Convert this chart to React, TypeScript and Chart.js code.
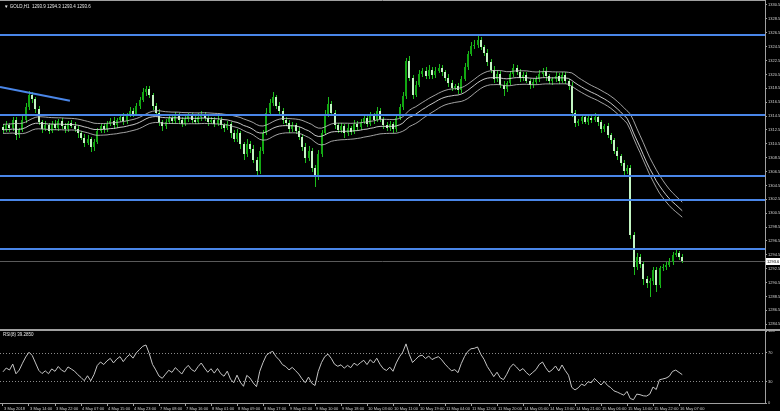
import React, { useEffect, useRef } from "react";
import { Chart, registerables } from "chart.js";

Chart.register(...registerables);

const FONT = "'Liberation Sans', Arial, sans-serif";

const headerText = "\u25BC GOLD,H1  1293.9 1294.3 1293.4 1293.6";
const rsiTitle = "RSI(8) 39.2850";

const firstOpen = 1312.9;
const closes = [
  1312.5, 1313.2, 1312.8, 1313.9, 1311.8, 1312.5, 1314.0, 1315.8, 1317.6, 1317.0,
  1315.5, 1313.6, 1312.6, 1313.2, 1312.4, 1313.4, 1312.8, 1313.8, 1313.0, 1312.6,
  1313.5, 1313.1, 1312.7, 1312.0, 1311.4, 1310.6, 1311.2, 1310.0, 1310.8, 1312.3,
  1313.0, 1312.6, 1313.3, 1313.8, 1313.2, 1313.9, 1314.4, 1313.8, 1314.6, 1315.2,
  1314.8, 1315.9, 1316.8, 1317.9, 1318.4, 1317.5, 1316.0, 1315.0, 1313.6, 1313.0,
  1313.6, 1314.2, 1313.8, 1314.5, 1314.0, 1313.4, 1314.1, 1314.6, 1314.0, 1313.7,
  1314.3, 1314.8, 1314.2, 1313.6, 1314.0, 1313.4, 1313.9, 1313.2, 1312.8, 1313.3,
  1312.0, 1311.2, 1312.0, 1310.4, 1309.0, 1310.5, 1309.8, 1308.2, 1306.6, 1309.5,
  1312.0, 1315.0, 1316.4, 1317.2, 1316.0, 1315.2, 1314.0, 1313.5, 1312.6, 1313.2,
  1312.4, 1311.5, 1310.0, 1308.5, 1309.5, 1307.0, 1305.8, 1309.0, 1312.0, 1314.8,
  1316.2, 1315.0, 1313.2, 1312.5, 1313.0, 1312.0, 1312.8, 1312.2, 1313.4, 1312.9,
  1313.6, 1314.2, 1313.4, 1314.6, 1314.0, 1315.2, 1314.1, 1313.2, 1312.8, 1313.4,
  1312.6, 1314.2, 1315.8, 1317.4, 1322.4, 1320.0, 1317.6, 1319.0, 1320.6, 1321.0,
  1320.2, 1321.2, 1320.4, 1321.0, 1321.4, 1320.8, 1320.0, 1319.3, 1318.6, 1318.8,
  1318.2, 1319.8, 1321.6, 1323.4, 1324.6, 1324.8, 1325.4, 1324.4, 1323.6, 1322.3,
  1321.2, 1319.8, 1320.6, 1319.0, 1318.4, 1319.3, 1320.6, 1321.4, 1320.8, 1320.0,
  1320.4, 1319.6, 1319.0, 1319.4, 1319.8, 1320.6, 1321.0, 1320.2, 1319.5, 1319.8,
  1320.3, 1319.6, 1320.4, 1319.6, 1318.8, 1315.0, 1313.5, 1313.8, 1314.3, 1313.7,
  1314.2, 1313.9, 1314.4, 1313.6, 1312.6, 1313.0, 1311.8, 1311.0, 1309.5, 1308.8,
  1307.8, 1306.6, 1307.0, 1297.4, 1292.8, 1294.2, 1293.2, 1291.0, 1290.4, 1290.8,
  1292.3, 1290.2, 1292.6, 1292.8, 1293.0, 1293.4, 1294.5, 1294.8, 1294.2, 1293.6,
];
const upperWicks = [
  0.4, 0.6, 0.3, 0.5, 0.4, 0.3, 0.5, 0.6, 0.5, 0.4,
  0.3, 0.5, 0.4, 0.6, 0.3, 0.4, 0.5, 0.3, 0.4, 0.5,
  0.3, 0.4, 0.5, 0.3, 0.4, 0.5, 0.6, 0.3, 0.4, 0.5,
  0.4, 0.3, 0.5, 0.4, 0.6, 0.3, 0.4, 0.5, 0.3, 0.6,
  0.4, 0.5, 0.4, 0.6, 0.4, 0.5, 0.3, 0.4, 0.5, 0.3,
  0.5, 0.4, 0.3, 0.6, 0.4, 0.3, 0.5, 0.4, 0.3, 0.5,
  0.6, 0.4, 0.3, 0.5, 0.4, 0.3, 0.6, 0.4, 0.3, 0.5,
  0.4, 0.5, 0.6, 0.3, 0.4, 0.7, 0.4, 0.5, 0.4, 0.6,
  0.5, 0.6, 0.5, 0.7, 0.4, 0.5, 0.4, 0.3, 0.5, 0.4,
  0.3, 0.5, 0.4, 0.6, 0.7, 0.4, 0.5, 0.6, 0.5, 0.6,
  1.0, 0.5, 0.4, 0.3, 0.5, 0.4, 0.6, 0.3, 0.5, 0.4,
  0.5, 0.6, 0.4, 0.5, 0.3, 0.6, 0.4, 0.3, 0.5, 0.4,
  0.3, 0.5, 0.4, 0.6, 0.5, 0.7, 0.4, 0.5, 0.6, 0.4,
  0.5, 0.6, 0.4, 0.5, 0.6, 0.4, 0.3, 0.5, 0.4, 0.3,
  0.4, 0.5, 0.6, 0.5, 0.6, 0.7, 0.8, 0.5, 0.4, 0.5,
  0.4, 0.5, 0.6, 0.4, 0.5, 0.3, 0.4, 0.6, 0.4, 0.5,
  0.4, 0.5, 0.3, 0.4, 0.5, 0.6, 0.4, 0.5, 0.4, 0.3,
  0.5, 0.4, 0.5, 0.4, 0.3, 0.6, 0.4, 0.3, 0.5, 0.4,
  0.3, 0.4, 0.5, 0.4, 0.3, 0.4, 0.5, 0.3, 0.4, 0.5,
  0.3, 0.4, 0.5, 0.5, 0.4, 0.5, 0.4, 0.3, 0.4, 0.3,
  0.5, 0.4, 0.3, 0.4, 0.5, 0.6, 0.4, 0.5, 0.3, 0.4,
];
const lowerWicks = [
  0.5, 0.3, 0.6, 0.4, 0.7, 0.4, 0.3, 0.5, 0.4, 0.6,
  0.5, 0.4, 0.6, 0.3, 0.5, 0.4, 0.3, 0.5, 0.4, 0.6,
  0.4, 0.3, 0.5, 0.6, 0.4, 0.5, 0.3, 0.7, 0.5, 0.4,
  0.3, 0.5, 0.4, 0.3, 0.5, 0.4, 0.3, 0.6, 0.4, 0.3,
  0.5, 0.3, 0.4, 0.3, 0.5, 0.4, 0.6, 0.4, 0.5, 0.6,
  0.4, 0.3, 0.5, 0.4, 0.6, 0.5, 0.3, 0.4, 0.5, 0.4,
  0.3, 0.5, 0.4, 0.6, 0.3, 0.5, 0.4, 0.5, 0.6, 0.3,
  0.6, 0.5, 0.4, 0.7, 0.8, 0.4, 0.6, 0.5, 0.7, 0.4,
  0.4, 0.3, 0.5, 0.4, 0.5, 0.4, 0.6, 0.4, 0.5, 0.4,
  0.5, 0.4, 0.6, 0.7, 0.5, 0.6, 1.5, 0.5, 0.4, 0.3,
  0.4, 0.5, 0.6, 0.4, 0.5, 0.6, 0.4, 0.5, 0.3, 0.5,
  0.4, 0.3, 0.5, 0.4, 0.6, 0.4, 0.5, 0.6, 0.4, 0.5,
  0.6, 0.4, 0.3, 0.5, 0.4, 0.5, 0.6, 0.4, 0.3, 0.5,
  0.4, 0.3, 0.5, 0.4, 0.3, 0.5, 0.4, 0.6, 0.5, 0.4,
  0.5, 0.4, 0.3, 0.4, 0.3, 0.4, 0.5, 0.4, 0.5, 0.6,
  0.5, 0.6, 0.4, 0.5, 1.0, 0.4, 0.3, 0.5, 0.4, 0.6,
  0.5, 0.4, 0.6, 0.4, 0.3, 0.4, 0.5, 0.6, 0.4, 0.5,
  0.4, 0.5, 0.3, 0.5, 0.6, 0.7, 0.6, 0.4, 0.5, 0.4,
  0.5, 0.4, 0.3, 0.5, 0.6, 0.4, 0.5, 0.6, 0.5, 0.6,
  0.5, 0.6, 0.5, 0.6, 1.2, 0.5, 0.6, 0.8, 0.7, 2.0,
  0.6, 1.0, 0.5, 0.4, 0.5, 0.3, 0.4, 0.3, 0.4, 0.3,
];

const levelLines = [1326.2, 1314.6, 1305.9, 1302.4, 1295.3];
const trendLine = [
  { x: -0.92, y: 1318.7 },
  { x: 20.6, y: 1316.7 },
];
const lastPrice = 1293.6;
const maPeriod = 34;
const rsiPeriod = 8;
// average gain / loss carried in from the bars before the visible window
const rsiSeedGain = 0.42;
const rsiSeedLoss = 0.55;

const priceTicks = [
  1330.5, 1328.5, 1326.5, 1324.5, 1322.5, 1320.5, 1318.5, 1316.5, 1314.5, 1312.5, 1310.5, 1308.5,
  1306.5, 1304.5, 1302.5, 1300.5, 1298.5, 1296.5, 1294.5, 1292.5, 1290.5, 1288.5, 1286.5, 1284.5,
];
const rsiTicks = [0, 30, 70, 100];
const rsiLevels = [30, 70];
const timeTickBars = [
  0, 8, 16, 24, 32, 40, 48, 56, 64, 72, 80, 88, 96, 104, 112, 120, 128, 136, 144, 152, 160, 168,
  176, 184, 192, 200, 208,
];
const timeLabels = [
  "3 May 2018", "3 May 14:00", "3 May 22:00", "4 May 07:00", "4 May 15:00", "4 May 23:00",
  "7 May 08:00", "7 May 16:00", "8 May 01:00", "8 May 09:00", "8 May 17:00", "9 May 02:00",
  "9 May 10:00", "9 May 18:00", "10 May 03:00", "10 May 11:00", "10 May 19:00", "11 May 04:00",
  "11 May 12:00", "11 May 20:00", "14 May 05:00", "14 May 13:00", "14 May 21:00", "15 May 06:00",
  "15 May 14:00", "15 May 22:00", "16 May 07:00",
];

const X_MIN = -0.923;
const X_MAX = 234.46;
const Y_MIN = 1283.67;
const Y_MAX = 1331.22;

const opens = closes.map((c, i) => (i === 0 ? firstOpen : closes[i - 1]));
const highs = closes.map((c, i) => Math.max(opens[i], c) + upperWicks[i]);
const lows = closes.map((c, i) => Math.min(opens[i], c) - lowerWicks[i]);

function ema(src: number[], n: number) {
  const k = 2 / (n + 1);
  let e = src[0];
  return src.map((v, i) => {
    e = i === 0 ? v : e + k * (v - e);
    return { x: i, y: e };
  });
}

function rsi(src: number[], n: number) {
  const out: { x: number; y: number }[] = [];
  let ag = rsiSeedGain;
  let al = rsiSeedLoss;
  out.push({ x: 0, y: 100 - 100 / (1 + ag / al) });
  for (let i = 1; i < src.length; i++) {
    const d = src[i] - src[i - 1];
    const g = Math.max(d, 0);
    const l = Math.max(-d, 0);
    ag = (ag * (n - 1) + g) / n;
    al = (al * (n - 1) + l) / n;
    out.push({ x: i, y: al === 0 ? 100 : 100 - 100 / (1 + ag / al) });
  }
  return out;
}

const AXIS_COLOR = "#a0a0a0";
const TEXT_COLOR = "#d0d0d0";

export default function App() {
  const mainRef = useRef<HTMLCanvasElement>(null);
  const rsiRef = useRef<HTMLCanvasElement>(null);

  useEffect(() => {
    document.body.style.margin = "0";
    document.body.style.background = "#000";

    const mainPlugin = {
      id: "mt4main",
      beforeDraw(chart: any) {
        const { ctx, width, height } = chart;
        ctx.save();
        ctx.fillStyle = "#000";
        ctx.fillRect(0, 0, width, height);
        ctx.restore();
      },
      beforeDatasetsDraw(chart: any) {
        const { ctx, chartArea: a, scales } = chart;
        const xs = scales.x;
        const ys = scales.y;
        ctx.save();
        ctx.beginPath();
        ctx.rect(a.left, a.top, a.right - a.left, a.bottom - a.top);
        ctx.clip();
        const by = Math.round(ys.getPixelForValue(lastPrice)) + 0.5;
        ctx.strokeStyle = "#5a5a5a";
        ctx.lineWidth = 1;
        ctx.beginPath();
        ctx.moveTo(a.left, by);
        ctx.lineTo(a.right, by);
        ctx.stroke();
        for (let i = 0; i < closes.length; i++) {
          const rx = Math.round(xs.getPixelForValue(i));
          const o = opens[i];
          const c = closes[i];
          const hy = Math.round(ys.getPixelForValue(highs[i]));
          const ly = Math.round(ys.getPixelForValue(lows[i]));
          ctx.fillStyle = "#1cbc1c";
          ctx.fillRect(rx, hy, 1, Math.max(1, ly - hy));
          const top = Math.round(ys.getPixelForValue(Math.max(o, c)));
          const bot = Math.round(ys.getPixelForValue(Math.min(o, c)));
          ctx.fillStyle = c >= o ? "#12a812" : "#c2f5c2";
          ctx.fillRect(rx - 1, top, 2, Math.max(1, bot - top));
        }
        ctx.restore();
      },
      afterDatasetsDraw(chart: any) {
        const { ctx, chartArea: a, scales } = chart;
        const xs = scales.x;
        const ys = scales.y;
        ctx.save();
        ctx.beginPath();
        ctx.rect(a.left, a.top, a.right - a.left, a.bottom - a.top);
        ctx.clip();
        ctx.strokeStyle = "#4a86e8";
        ctx.lineWidth = 2;
        levelLines.forEach((p) => {
          const y = Math.round(ys.getPixelForValue(p));
          ctx.beginPath();
          ctx.moveTo(a.left, y);
          ctx.lineTo(a.right, y);
          ctx.stroke();
        });
        ctx.beginPath();
        ctx.moveTo(xs.getPixelForValue(trendLine[0].x), ys.getPixelForValue(trendLine[0].y));
        ctx.lineTo(xs.getPixelForValue(trendLine[1].x), ys.getPixelForValue(trendLine[1].y));
        ctx.stroke();
        ctx.restore();

        ctx.save();
        ctx.strokeStyle = AXIS_COLOR;
        ctx.lineWidth = 1;
        ctx.beginPath();
        ctx.moveTo(a.left, 0.5);
        ctx.lineTo(a.right, 0.5);
        ctx.moveTo(a.left, a.bottom - 0.5);
        ctx.lineTo(chart.width, a.bottom - 0.5);
        ctx.stroke();
        ctx.fillStyle = "#e8e8e8";
        ctx.font = `4.5px ${FONT}`;
        ctx.textBaseline = "middle";
        ctx.textAlign = "left";
        ctx.fillText(headerText, 4, 7);
        const py = Math.round(ys.getPixelForValue(lastPrice));
        ctx.fillStyle = "#ffffff";
        ctx.fillRect(a.right + 1, py - 3, chart.width - a.right - 1, 7);
        ctx.fillStyle = "#000000";
        ctx.font = `4px ${FONT}`;
        ctx.fillText(lastPrice.toFixed(1), a.right + 2, py + 0.5);
        ctx.restore();
      },
    };

    const maLine = (data: any[], color: string) => ({
      data,
      borderColor: color,
      borderWidth: 1,
      pointRadius: 0,
      tension: 0,
      fill: false,
    });

    const main = new Chart(mainRef.current as HTMLCanvasElement, {
      type: "line",
      data: {
        datasets: [
          maLine(ema(highs, maPeriod), "rgba(190,190,190,0.85)"),
          maLine(ema(closes, maPeriod), "rgba(220,220,220,0.9)"),
          maLine(ema(lows, maPeriod), "rgba(190,190,190,0.85)"),
        ],
      },
      options: {
        animation: false,
        responsive: false,
        devicePixelRatio: 1,
        layout: { padding: 0 },
        plugins: { legend: { display: false }, tooltip: { enabled: false } },
        events: [],
        scales: {
          x: { type: "linear", min: X_MIN, max: X_MAX, display: false },
          y: {
            type: "linear",
            position: "right",
            min: Y_MIN,
            max: Y_MAX,
            afterBuildTicks: (s: any) => {
              s.ticks = priceTicks.map((v) => ({ value: v }));
            },
            afterFit: (s: any) => {
              s.width = 15;
              s.paddingTop = 0;
              s.paddingBottom = 0;
            },
            ticks: {
              color: TEXT_COLOR,
              font: { size: 4, family: FONT },
              padding: 1,
              autoSkip: false,
              callback: (v: any) => Number(v).toFixed(1),
            },
            grid: { drawOnChartArea: false, tickLength: 2, color: AXIS_COLOR },
            border: { color: AXIS_COLOR, width: 1 },
          },
        },
      } as any,
      plugins: [mainPlugin],
    });

    const rsiPlugin = {
      id: "mt4rsi",
      beforeDraw(chart: any) {
        const { ctx, width, height } = chart;
        ctx.save();
        ctx.fillStyle = "#000";
        ctx.fillRect(0, 0, width, height);
        ctx.restore();
      },
      beforeDatasetsDraw(chart: any) {
        const { ctx, chartArea: a, scales } = chart;
        ctx.save();
        ctx.strokeStyle = "#8a8a8a";
        ctx.lineWidth = 1;
        ctx.setLineDash([1, 2]);
        rsiLevels.forEach((lv) => {
          const y = Math.round(scales.y.getPixelForValue(lv)) + 0.5;
          ctx.beginPath();
          ctx.moveTo(a.left, y);
          ctx.lineTo(a.right, y);
          ctx.stroke();
        });
        ctx.restore();
      },
      afterDraw(chart: any) {
        const { ctx, chartArea: a } = chart;
        ctx.save();
        ctx.strokeStyle = AXIS_COLOR;
        ctx.lineWidth = 1;
        ctx.beginPath();
        ctx.moveTo(0, 0.5);
        ctx.lineTo(chart.width, 0.5);
        ctx.stroke();
        ctx.fillStyle = "#e8e8e8";
        ctx.font = `4.5px ${FONT}`;
        ctx.textBaseline = "middle";
        ctx.textAlign = "left";
        ctx.fillText(rsiTitle, a.left + 3, a.top + 4);
        ctx.restore();
      },
    };

    const rsiChart = new Chart(rsiRef.current as HTMLCanvasElement, {
      type: "line",
      data: {
        datasets: [
          {
            data: rsi(closes, rsiPeriod),
            borderColor: "#c4c4c4",
            borderWidth: 1,
            pointRadius: 0,
            tension: 0,
            fill: false,
          },
        ],
      },
      options: {
        animation: false,
        responsive: false,
        devicePixelRatio: 1,
        layout: { padding: { top: 1, left: 0, right: 0, bottom: 0 } },
        plugins: { legend: { display: false }, tooltip: { enabled: false } },
        events: [],
        scales: {
          x: {
            type: "linear",
            position: "bottom",
            min: X_MIN,
            max: X_MAX,
            afterBuildTicks: (s: any) => {
              s.ticks = timeTickBars.map((v) => ({ value: v }));
            },
            afterFit: (s: any) => {
              s.height = 8;
              s.paddingLeft = 0;
              s.paddingRight = 0;
            },
            ticks: {
              color: TEXT_COLOR,
              font: { size: 4, family: FONT },
              padding: 0,
              autoSkip: false,
              maxRotation: 0,
              minRotation: 0,
              align: "start",
              callback: (_v: any, idx: number) => " " + timeLabels[idx],
            },
            grid: { drawOnChartArea: false, tickLength: 3, color: AXIS_COLOR },
            border: { color: AXIS_COLOR, width: 1 },
          },
          y: {
            type: "linear",
            position: "right",
            min: 0,
            max: 100,
            afterBuildTicks: (s: any) => {
              s.ticks = rsiTicks.map((v) => ({ value: v }));
            },
            afterFit: (s: any) => {
              s.width = 15;
              s.paddingTop = 0;
              s.paddingBottom = 0;
            },
            ticks: {
              color: TEXT_COLOR,
              font: { size: 4, family: FONT },
              padding: 1,
              autoSkip: false,
            },
            grid: { drawOnChartArea: false, tickLength: 2, color: AXIS_COLOR },
            border: { color: AXIS_COLOR, width: 1 },
          },
        },
      } as any,
      plugins: [rsiPlugin],
    });

    return () => {
      main.destroy();
      rsiChart.destroy();
    };
  }, []);

  return (
    <div
      style={{
        position: "relative",
        width: 780,
        height: 411,
        background: "#000",
        overflow: "hidden",
      }}
    >
      <canvas
        ref={mainRef}
        width={780}
        height={330}
        style={{ position: "absolute", left: 0, top: 0, width: 780, height: 330 }}
      />
      <canvas
        ref={rsiRef}
        width={780}
        height={81}
        style={{ position: "absolute", left: 0, top: 330, width: 780, height: 81 }}
      />
    </div>
  );
}
